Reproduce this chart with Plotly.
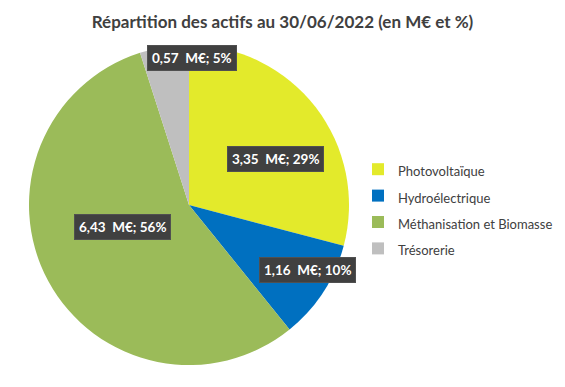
import plotly.graph_objects as go

categories = ["Photovoltaïque", "Hydroélectrique", "Méthanisation et Biomasse", "Trésorerie"]
values_meur = [3.35, 1.16, 6.43, 0.57]
percent_labels = [29, 10, 56, 5]
colors = ["#E3EA2B", "#0070C0", "#9BBB59", "#BFBFBF"]

# label box centres in pixels (layout only)
label_px = [(275, 159), (307, 270), (122, 227), (192, 58)]

W, H = 565, 387

legend_names = [f"<span style='font-size:13px'>{c}</span>" for c in categories]

fig = go.Figure(go.Pie(
    labels=legend_names,
    values=values_meur,
    marker=dict(colors=colors, line=dict(width=0)),
    sort=False,
    direction="clockwise",
    rotation=0,
    textinfo="none",
    hoverinfo="skip",
    domain=dict(x=[28 / W, 350 / W], y=[1 - 365 / H, 1 - 45 / H]),
))

def fmt(v):
    return f"{v:.2f}".replace(".", ",")

annotations = []
for v, p, (px, py) in zip(values_meur, percent_labels, label_px):
    annotations.append(dict(
        x=px / W, y=1 - py / H, xref="paper", yref="paper",
        text=f"{fmt(v)}\u00a0\u00a0M€; {p}%",
        showarrow=False,
        font=dict(family="Lato", size=13.5, color="white", weight="bold"),
        bgcolor="#404040", bordercolor="#505050", borderwidth=1, borderpad=4,
        xanchor="center", yanchor="middle",
    ))

fig.update_layout(
    width=W, height=H,
    margin=dict(l=0, r=0, t=0, b=0),
    paper_bgcolor="white", plot_bgcolor="white",
    title=dict(
        text="<b>Répartition des actifs au 30/06/2022 (en M€ et %)</b>",
        x=0.5, xanchor="center", y=1 - 22 / H, yanchor="middle",
        font=dict(family="Lato", size=17, color="#404040"),
    ),
    legend=dict(
        x=358 / W, y=1 - 209 / H, xanchor="left", yanchor="middle",
        font=dict(family="Lato", size=18, color="#404040"),
        itemwidth=30, tracegroupgap=0,
    ),
    annotations=annotations,
)

fig.write_html("out.html", config={"displayModeBar": False},
               post_script="document.body.style.margin='0';")
